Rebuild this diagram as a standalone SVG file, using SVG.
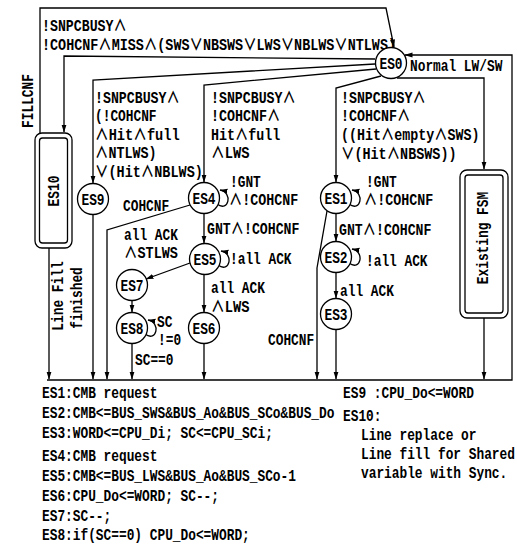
<svg xmlns="http://www.w3.org/2000/svg" width="517" height="544" viewBox="0 0 517 544">
<defs>
<style>
text{font-family:"Liberation Mono","Noto Sans CJK JP",monospace;font-size:12.83px;font-weight:bold;fill:#000}
.m{text-anchor:middle}
.c{fill:#fff;stroke:#000;stroke-width:1.3}
.b{fill:#fff;stroke:#000;stroke-width:1.3}
.l{fill:none;stroke:#000;stroke-width:1.3;marker-end:url(#a)}
</style>
<marker id="a" markerWidth="8" markerHeight="6" refX="7.5" refY="3" orient="auto" markerUnits="userSpaceOnUse"><path d="M0,0.5 L8,3 L0,5.5 z" fill="#000"/></marker>
<path id="loop" d="M13,6 C25,15 29,-6 16,-8"/>
</defs>
<rect width="517" height="544" fill="#fff"/>

<g id="connectors">
<path class="l" d="M40,134 L40,8 L386,8 L394,47"/>
<path class="l" d="M375,59 L64,56 L64,132"/>
<path class="l" d="M375,64 L93,80 L93,183"/>
<path class="l" d="M376,69 L204,85 L204,182"/>
<path class="l" d="M381,76 L336,88 L336,182"/>
<path class="l" d="M397,78 L484,78 L484,169"/>
<path class="l" d="M47,380 L512,380 L512,55 L405,55"/>
<path class="l" d="M49,248 L49,379"/>
<path class="l" d="M93,214.5 L93,379"/>
<path class="l" d="M190,205 L107,230 L107,379"/>
<path class="l" d="M204,213.5 L204,243"/>
<path class="l" d="M190,263 L146,279"/>
<path class="l" d="M204,274.5 L204,312"/>
<path class="l" d="M132,300.5 L132,312"/>
<path class="l" d="M132,343.5 L132,379"/>
<path class="l" d="M204,343.5 L204,379"/>
<path class="l" d="M336,213.5 L336,241"/>
<path class="l" d="M336,272.5 L336,298"/>
<path class="l" d="M336,329.5 L336,379"/>
<path class="l" d="M327,211 L317,268 L317,379"/>
<path class="l" d="M484,318 L484,379"/>
<use href="#loop" class="l" transform="translate(204,198)"/>
<use href="#loop" class="l" transform="translate(205,259)"/>
<use href="#loop" class="l" transform="translate(132,328)"/>
<use href="#loop" class="l" transform="translate(336,198)"/>
<use href="#loop" class="l" transform="translate(336,257)"/>
</g>

<g id="labels">
<text transform="translate(42,31) scale(1,1.25)" textLength="84.7" lengthAdjust="spacingAndGlyphs">!SNPCBUSY∧</text>
<text transform="translate(42,50) scale(1,1.25)" textLength="354" lengthAdjust="spacingAndGlyphs">!COHCNF∧MISS∧(SWS∨NBSWS∨LWS∨NBLWS∨NTLWS)</text>
<text class="m" transform="translate(33,101) rotate(-90) scale(1,1.25)">FILLCNF</text>
<text transform="translate(410,71) scale(1,1.25)">Normal LW/SW</text>

<text transform="translate(95,103) scale(1,1.25)" textLength="84.7" lengthAdjust="spacingAndGlyphs">!SNPCBUSY∧</text>
<text transform="translate(95,121) scale(1,1.25)">(!COHCNF</text>
<text transform="translate(95,140) scale(1,1.25)" textLength="84.7" lengthAdjust="spacingAndGlyphs">∧Hit∧full</text>
<text transform="translate(95,158) scale(1,1.25)" textLength="61.6" lengthAdjust="spacingAndGlyphs">∧NTLWS)</text>
<text transform="translate(95,177) scale(1,1.25)" textLength="107.8" lengthAdjust="spacingAndGlyphs">∨(Hit∧NBLWS)</text>

<text transform="translate(211,103) scale(1,1.25)" textLength="84.7" lengthAdjust="spacingAndGlyphs">!SNPCBUSY∧</text>
<text transform="translate(211,121) scale(1,1.25)" textLength="69.3" lengthAdjust="spacingAndGlyphs">!COHCNF∧</text>
<text transform="translate(211,140) scale(1,1.25)" textLength="69.3" lengthAdjust="spacingAndGlyphs">Hit∧full</text>
<text transform="translate(211,158) scale(1,1.25)" textLength="38.5" lengthAdjust="spacingAndGlyphs">∧LWS</text>

<text transform="translate(341,103) scale(1,1.25)" textLength="84.7" lengthAdjust="spacingAndGlyphs">!SNPCBUSY∧</text>
<text transform="translate(341,121) scale(1,1.25)" textLength="69.3" lengthAdjust="spacingAndGlyphs">!COHCNF∧</text>
<text transform="translate(341,140) scale(1,1.25)" textLength="138.6" lengthAdjust="spacingAndGlyphs">((Hit∧empty∧SWS)</text>
<text transform="translate(341,159) scale(1,1.25)" textLength="115.5" lengthAdjust="spacingAndGlyphs">∨(Hit∧NBSWS))</text>

<text transform="translate(123,211) scale(1,1.25)">COHCNF</text>
<text transform="translate(230,187) scale(1,1.25)">!GNT</text>
<text transform="translate(229,205) scale(1,1.25)" textLength="69.3" lengthAdjust="spacingAndGlyphs">∧!COHCNF</text>
<text transform="translate(207,234) scale(1,1.25)" textLength="92.4" lengthAdjust="spacingAndGlyphs">GNT∧!COHCNF</text>
<text transform="translate(230,264) scale(1,1.25)">!all ACK</text>
<text transform="translate(124,240) scale(1,1.25)">all ACK</text>
<text transform="translate(124,258) scale(1,1.25)" textLength="53.9" lengthAdjust="spacingAndGlyphs">∧STLWS</text>
<text transform="translate(211,293) scale(1,1.25)">all ACK</text>
<text transform="translate(211,312) scale(1,1.25)" textLength="38.5" lengthAdjust="spacingAndGlyphs">∧LWS</text>
<text transform="translate(157,327) scale(1,1.25)">SC</text>
<text transform="translate(158,345) scale(1,1.25)">!=0</text>
<text transform="translate(135,365) scale(1,1.25)">SC==0</text>

<text transform="translate(366,187) scale(1,1.25)">!GNT</text>
<text transform="translate(364,205) scale(1,1.25)" textLength="69.3" lengthAdjust="spacingAndGlyphs">∧!COHCNF</text>
<text transform="translate(339,235) scale(1,1.25)" textLength="92.4" lengthAdjust="spacingAndGlyphs">GNT∧!COHCNF</text>
<text transform="translate(366,266) scale(1,1.25)">!all ACK</text>
<text transform="translate(340,296) scale(1,1.25)">all ACK</text>
<text transform="translate(268,345) scale(1,1.25)">COHCNF</text>

<text class="m" transform="translate(63,296) rotate(-90) scale(1,1.25)">Line Fill</text>
<text class="m" transform="translate(82,298) rotate(-90) scale(1,1.25)">finished</text>
</g>

<g id="ES0"><circle class="c" cx="391" cy="63" r="15.5"/><text class="m" transform="translate(391,68.5) scale(1,1.25)">ES0</text></g>
<g id="ES9"><circle class="c" cx="93" cy="199" r="15.5"/><text class="m" transform="translate(93,204.5) scale(1,1.25)">ES9</text></g>
<g id="ES4"><circle class="c" cx="204" cy="198" r="15.5"/><text class="m" transform="translate(204,203.5) scale(1,1.25)">ES4</text></g>
<g id="ES5"><circle class="c" cx="205" cy="259" r="15.5"/><text class="m" transform="translate(205,264.5) scale(1,1.25)">ES5</text></g>
<g id="ES7"><circle class="c" cx="132" cy="285" r="15.5"/><text class="m" transform="translate(132,290.5) scale(1,1.25)">ES7</text></g>
<g id="ES8"><circle class="c" cx="132" cy="328" r="15.5"/><text class="m" transform="translate(132,333.5) scale(1,1.25)">ES8</text></g>
<g id="ES6"><circle class="c" cx="204" cy="328" r="15.5"/><text class="m" transform="translate(204,333.5) scale(1,1.25)">ES6</text></g>
<g id="ES1"><circle class="c" cx="336" cy="198" r="15.5"/><text class="m" transform="translate(336,203.5) scale(1,1.25)">ES1</text></g>
<g id="ES2"><circle class="c" cx="336" cy="257" r="15.5"/><text class="m" transform="translate(336,262.5) scale(1,1.25)">ES2</text></g>
<g id="ES3"><circle class="c" cx="336" cy="314" r="15.5"/><text class="m" transform="translate(336,319.5) scale(1,1.25)">ES3</text></g>
<g id="ES10"><rect class="b" x="35" y="133" width="37" height="115" rx="7"/><rect class="b" x="39.5" y="138" width="28" height="105" rx="3"/><text class="m" transform="translate(59,191) rotate(-90) scale(1,1.25)">ES10</text></g>
<g id="ExistingFSM"><rect class="b" x="460" y="170" width="48" height="148" rx="7"/><rect class="b" x="465" y="175" width="38" height="138" rx="3"/><text class="m" transform="translate(488,238) rotate(-90) scale(1,1.25)">Existing FSM</text></g>

<g id="legend">
<text transform="translate(42,398) scale(1,1.25)">ES1:CMB request</text>
<text transform="translate(42,418) scale(1,1.25)">ES2:CMB&lt;=BUS_SWS&amp;BUS_Ao&amp;BUS_SCo&amp;BUS_Do</text>
<text transform="translate(42,438) scale(1,1.25)">ES3:WORD&lt;=CPU_Di; SC&lt;=CPU_SCi;</text>
<text transform="translate(42,461) scale(1,1.25)">ES4:CMB request</text>
<text transform="translate(42,481) scale(1,1.25)">ES5:CMB&lt;=BUS_LWS&amp;BUS_Ao&amp;BUS_SCo-1</text>
<text transform="translate(42,501) scale(1,1.25)">ES6:CPU_Do&lt;=WORD; SC--;</text>
<text transform="translate(42,521) scale(1,1.25)">ES7:SC--;</text>
<text transform="translate(42,540) scale(1,1.25)">ES8:if(SC==0) CPU_Do&lt;=WORD;</text>
<text transform="translate(343,398) scale(1,1.25)">ES9 :CPU_Do&lt;=WORD</text>
<text transform="translate(343,421) scale(1,1.25)">ES10:</text>
<text transform="translate(361,440) scale(1,1.25)">Line replace or</text>
<text transform="translate(361,459) scale(1,1.25)">Line fill for Shared</text>
<text transform="translate(361,478) scale(1,1.25)">variable with Sync.</text>
</g>
</svg>
